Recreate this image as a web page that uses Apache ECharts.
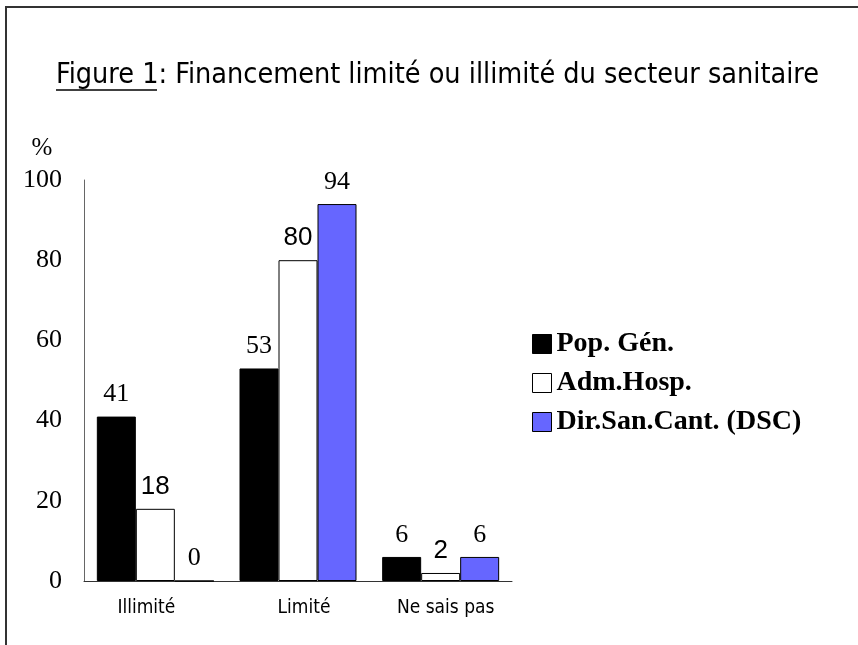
<!DOCTYPE html>
<html>
<head>
<meta charset="utf-8">
<script src="https://cdn.jsdelivr.net/npm/echarts@6/dist/echarts.min.js"></script>
<style>
  html, body { margin: 0; padding: 0; background: #fff; }
  #main { width: 858px; height: 645px; }
</style>
</head>
<body>
<div id="main"></div>
<script>
// catégories et valeurs (%)
var categories = ["Illimité", "Limité", "Ne sais pas"];
var seriesNames = ["Pop. Gén.", "Adm.Hosp.", "Dir.San.Cant. (DSC)"];
var popGen = [41, 53, 6];
var admHosp = [18, 80, 2];
var dirSanCant = [0, 94, 6];

var serif = "'Liberation Serif', 'Times New Roman', serif";
var sans = "'Liberation Sans', Arial, sans-serif";
var narrow = "'DejaVu Sans Condensed', 'Liberation Sans Narrow', sans-serif";

// petits décalages des étiquettes de catégorie, comme dans l'original
var labelPads = [[0, 18, 0, 0], [0, 0, 0, 12], [0, 0, 0, 10]];

var chartDom = document.getElementById("main");
var myChart = echarts.init(chartDom);

function barSeries(name, data, color, labelFont) {
  return {
    name: name,
    type: "bar",
    data: data,
    barWidth: 39,
    barGap: "0%",
    itemStyle: {
      color: color,
      borderColor: "#000",
      borderWidth: 1
    },
    label: {
      show: true,
      position: "top",
      distance: 9,
      fontFamily: labelFont,
      fontSize: 26,
      color: "#000"
    }
  };
}

var option = {
  animation: false,
  backgroundColor: "#fff",
  title: {
    text: "{u|Figure 1}: Financement limité ou illimité du secteur sanitaire",
    left: 56,
    top: 61,
    padding: 0,
    textStyle: {
      fontFamily: narrow,
      fontSize: 28.5,
      fontWeight: "normal",
      color: "#000",
      rich: {
        u: { fontFamily: narrow, fontSize: 28.5, color: "#000" }
      }
    }
  },
  legend: {
    orient: "vertical",
    left: 527,
    top: 325,
    itemWidth: 19,
    itemHeight: 19,
    itemGap: 11,
    icon: "rect",
    textStyle: {
      fontFamily: serif,
      fontSize: 28,
      fontWeight: "bold",
      color: "#000"
    },
    data: [
      { name: seriesNames[0], itemStyle: { color: "#000", borderColor: "#000", borderWidth: 1 } },
      { name: seriesNames[1], itemStyle: { color: "#fff", borderColor: "#000", borderWidth: 1 } },
      { name: seriesNames[2], itemStyle: { color: "#6666ff", borderColor: "#000", borderWidth: 1 } }
    ]
  },
  grid: {
    left: 84,
    right: 346,
    top: 180,
    bottom: 64
  },
  xAxis: {
    type: "category",
    data: categories.map(function (c, i) {
      return { value: c, textStyle: { padding: labelPads[i] } };
    }),
    axisLine: { lineStyle: { color: "#333", width: 1 } },
    axisTick: { show: false },
    axisLabel: {
      margin: 18,
      fontFamily: narrow,
      fontSize: 19,
      color: "#000"
    }
  },
  yAxis: {
    type: "value",
    min: 0,
    max: 100,
    interval: 20,
    name: "%",
    nameLocation: "end",
    nameGap: 19,
    nameTextStyle: {
      fontFamily: serif,
      fontSize: 25,
      color: "#000",
      padding: [0, 84, 0, 0]
    },
    axisLine: { show: true, lineStyle: { color: "#666", width: 1 } },
    axisTick: { show: false },
    splitLine: { show: false },
    axisLabel: {
      margin: 22,
      fontFamily: serif,
      fontSize: 26,
      color: "#000"
    }
  },
  graphic: [
    {
      type: "rect",
      shape: { x: 6, y: 7, width: 900, height: 700 },
      style: { fill: null, stroke: "#333", lineWidth: 2 },
      silent: true
    },
    {
      type: "line",
      shape: { x1: 56, y1: 90, x2: 157, y2: 90 },
      style: { stroke: "#000", lineWidth: 1.5 },
      silent: true
    }
  ],
  series: [
    barSeries(seriesNames[0], popGen, "#000", serif),
    barSeries(seriesNames[1], admHosp, "#fff", sans),
    barSeries(seriesNames[2], dirSanCant, "#6666ff", serif)
  ]
};

option && myChart.setOption(option);
</script>
</body>
</html>
